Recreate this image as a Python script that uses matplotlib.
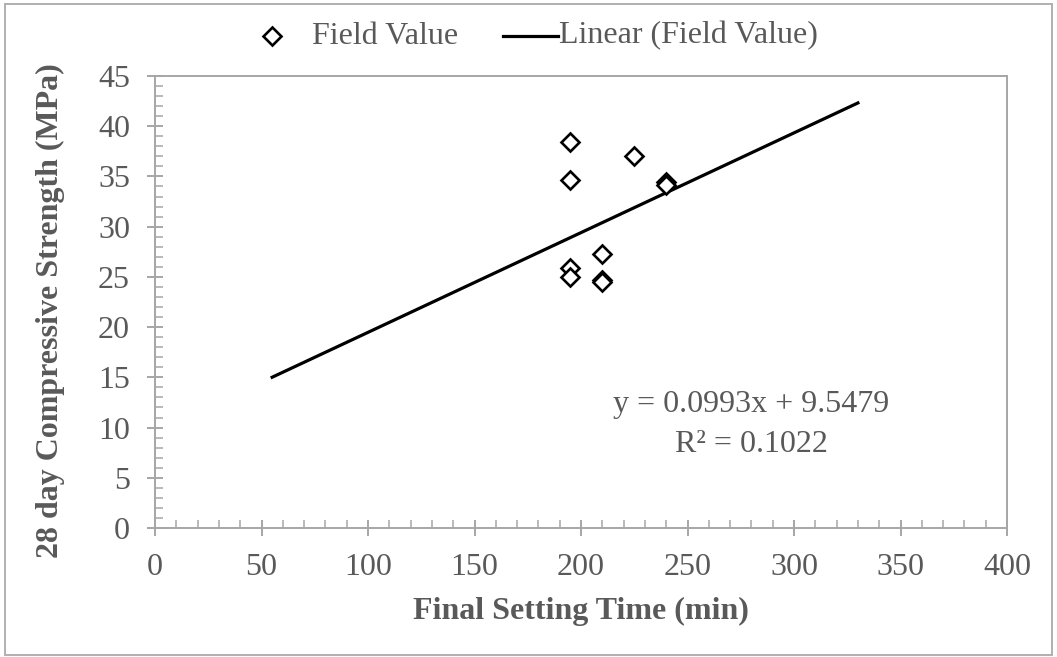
import matplotlib
matplotlib.use("Agg")
import matplotlib.pyplot as plt
from matplotlib.patches import Rectangle
from matplotlib.ticker import MultipleLocator
import numpy as np

# Field measurements
setting_time = [195, 195, 225, 240, 240, 210, 195, 195, 210, 210]
strength = [38.4, 34.6, 37.0, 34.4, 34.1, 27.3, 25.9, 25.0, 24.7, 24.5]

# Linear trend reported on the chart
slope = 0.0993
intercept = 9.5479
r_squared = 0.1022
trend_x = [55, 330]

x_ticks = [0, 50, 100, 150, 200, 250, 300, 350, 400]
y_ticks = [0, 5, 10, 15, 20, 25, 30, 35, 40, 45]

plt.rcParams['font.family'] = ['Liberation Serif', 'DejaVu Serif']
text_color = '#595959'
axis_color = '#a6a6a6'
fs = 23

W, H = 1057, 657
fig = plt.figure(figsize=(W / 100, H / 100), dpi=100)

# overlay in pixel units for the frame and the legend
over = fig.add_axes([0, 0, 1, 1], zorder=-1)
over.set_xlim(0, W)
over.set_ylim(H, 0)
over.axis('off')

ax = fig.add_axes([155 / W, 1 - 528 / H, (1007 - 155) / W, (528 - 76) / H])
ax.patch.set_alpha(0)

marker_style = dict(linestyle='none', marker='D', markersize=9.5,
                    markerfacecolor='white', markeredgecolor='black',
                    markeredgewidth=1.9)

ax.plot(setting_time, strength, zorder=3, clip_on=False, **marker_style)

tx = np.array(trend_x, dtype=float)
ax.plot(tx, slope * tx + intercept, color='black', linewidth=2.3, zorder=2)

ax.set_xlim(x_ticks[0], x_ticks[-1])
ax.set_ylim(y_ticks[0], y_ticks[-1])
ax.set_xticks(x_ticks)
ax.set_yticks(y_ticks)
ax.xaxis.set_minor_locator(MultipleLocator(10))
ax.yaxis.set_minor_locator(MultipleLocator(1))

for s in ax.spines.values():
    s.set_color(axis_color)
    s.set_linewidth(1.4)

ax.tick_params(which='major', direction='inout', length=12, width=1.4,
               color=axis_color, labelsize=fs, labelcolor=text_color, pad=12)
ax.tick_params(which='minor', direction='in', length=5.5, width=1.1,
               color=axis_color)
ax.tick_params(axis='both', which='both', top=False, right=False)

ax.set_xlabel('Final Setting Time (min)', fontsize=fs, fontweight='bold',
              color=text_color, va='center')
ax.xaxis.set_label_coords(0.5, (528 - 611) / 452)
ax.set_ylabel('28 day Compressive Strength (MPa)', fontsize=fs,
              fontweight='bold', color=text_color, va='center')
ax.yaxis.set_label_coords((50 - 155) / 852, 0.48)

ax.text(280, 12.25, f'y = {slope}x + {intercept}', fontsize=fs,
        color=text_color, ha='center', va='center')
ax.text(280, 8.27, f'R² = {r_squared}', fontsize=fs,
        color=text_color, ha='center', va='center')

# legend
leg_y = 36
over.plot([272], [leg_y], **marker_style)
over.text(312, leg_y, 'Field Value', fontsize=fs, color=text_color,
          ha='left', va='center')
over.plot([503, 558], [leg_y, leg_y], color='black', linewidth=2.3)
over.text(559, leg_y, 'Linear (Field Value)', fontsize=fs, color=text_color,
          ha='left', va='center')

# outer frame
over.add_patch(Rectangle((5, 4), 1047, 651, fill=False,
                         edgecolor='#b0b0b0', linewidth=1.4))

fig.savefig('out.png', dpi=100, facecolor='white')
